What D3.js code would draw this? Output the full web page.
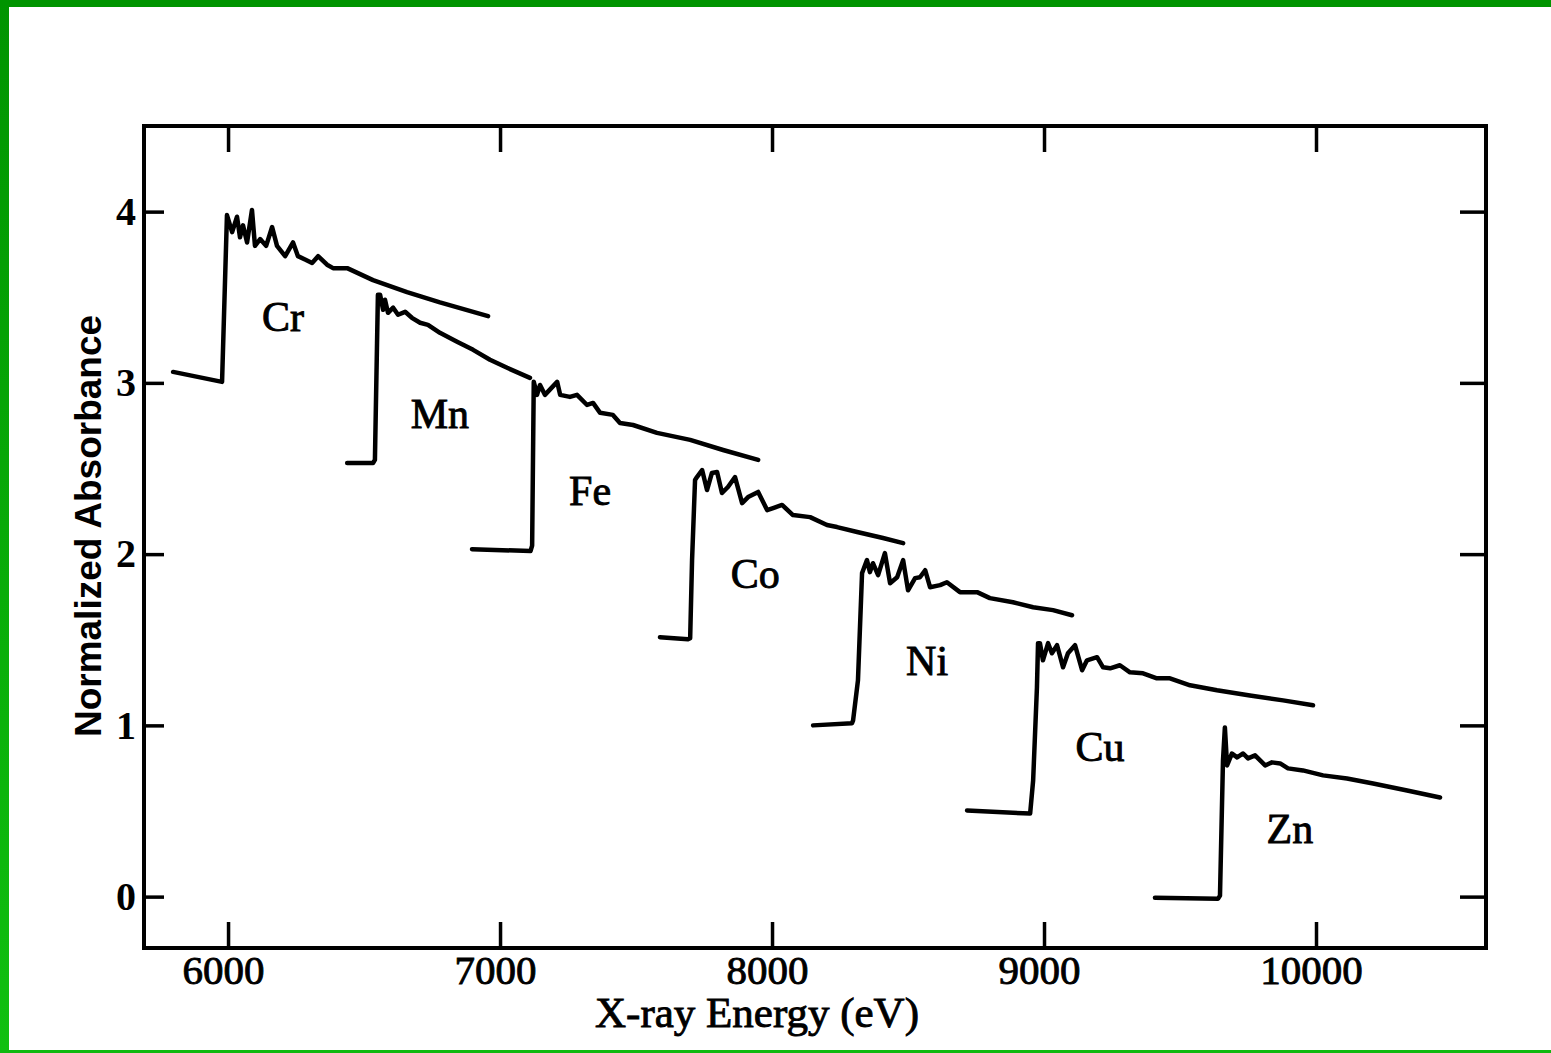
<!DOCTYPE html>
<html>
<head>
<meta charset="utf-8">
<script src="https://cdn.jsdelivr.net/npm/d3@7"></script>
<style>
  html, body { margin: 0; padding: 0; background: #fff; }
  svg { display: block; }
</style>
</head>
<body>
<script>
// tick values
const xTicks = [6000, 7000, 8000, 9000, 10000];
const yTicks = [0, 1, 2, 3, 4];

// element names and where their labels sit (eV, absorbance)
const elements = ["Cr", "Mn", "Fe", "Co", "Ni", "Cu", "Zn"];
const labelE = [6202, 6779, 7331, 7938, 8570, 9206, 9904];
const labelA = [3.39, 2.82, 2.37, 1.89, 1.38, 0.88, 0.40];

// spectra: [energy eV, normalized absorbance]
const cr = [
  [5798, 3.064], [5978, 3.006], [5996, 3.98], [6015, 3.88], [6033, 3.97],
  [6044, 3.85], [6055, 3.92], [6070, 3.82], [6088, 4.01], [6099, 3.80],
  [6118, 3.84], [6140, 3.80], [6162, 3.91], [6180, 3.80], [6210, 3.74],
  [6239, 3.82], [6257, 3.74], [6283, 3.72], [6309, 3.70], [6331, 3.74],
  [6364, 3.69], [6386, 3.67], [6438, 3.67], [6533, 3.60], [6658, 3.53],
  [6779, 3.47], [6956, 3.39]
];
const mn = [
  [6438, 2.532], [6533, 2.532], [6540, 2.55], [6551, 3.515], [6559, 3.515],
  [6570, 3.427], [6577, 3.485], [6588, 3.409], [6607, 3.439], [6625, 3.398],
  [6651, 3.415], [6676, 3.380], [6706, 3.351], [6735, 3.339], [6779, 3.292],
  [6842, 3.240], [6901, 3.193], [6963, 3.135], [7026, 3.088], [7110, 3.029]
];
const fe = [
  [6897, 2.029], [7112, 2.018], [7118, 2.05], [7124, 3.006], [7136, 2.930],
  [7147, 2.988], [7165, 2.930], [7210, 3.006], [7221, 2.930], [7257, 2.918],
  [7283, 2.930], [7320, 2.871], [7342, 2.883], [7368, 2.825], [7415, 2.813],
  [7441, 2.766], [7489, 2.754], [7577, 2.708], [7699, 2.667], [7820, 2.608],
  [7949, 2.550]
];
const co = [
  [7588, 1.515], [7691, 1.503], [7699, 1.509], [7706, 1.965], [7717, 2.433],
  [7724, 2.450], [7743, 2.491], [7761, 2.374], [7779, 2.474], [7798, 2.480],
  [7816, 2.357], [7838, 2.392], [7864, 2.450], [7890, 2.298], [7912, 2.333],
  [7949, 2.363], [7982, 2.257], [8004, 2.269], [8037, 2.287], [8077, 2.228],
  [8140, 2.216], [8202, 2.170], [8239, 2.158], [8313, 2.129], [8408, 2.094],
  [8482, 2.064]
];
const ni = [
  [8151, 1.0], [8294, 1.012], [8298, 1.029], [8316, 1.263], [8331, 1.889],
  [8335, 1.906], [8349, 1.965], [8360, 1.895], [8371, 1.947], [8390, 1.877],
  [8415, 2.006], [8434, 1.830], [8460, 1.865], [8482, 1.965], [8500, 1.789],
  [8526, 1.860], [8544, 1.865], [8563, 1.906], [8581, 1.807], [8618, 1.819],
  [8643, 1.836], [8691, 1.778], [8754, 1.778], [8801, 1.743], [8886, 1.719],
  [8960, 1.690], [9033, 1.673], [9103, 1.643]
];
const cu = [
  [8717, 0.503], [8949, 0.485], [8960, 0.678], [8974, 1.222], [8978, 1.480],
  [8985, 1.480], [8996, 1.380], [9015, 1.480], [9029, 1.421], [9048, 1.468],
  [9070, 1.339], [9088, 1.421], [9114, 1.468], [9140, 1.322], [9158, 1.380],
  [9195, 1.398], [9217, 1.339], [9243, 1.333], [9279, 1.351], [9316, 1.310],
  [9364, 1.304], [9415, 1.275], [9463, 1.275], [9537, 1.234], [9636, 1.205],
  [9757, 1.175], [9879, 1.146], [9989, 1.117]
];
const zn = [
  [9408, -0.006], [9640, -0.012], [9647, 0.006], [9658, 0.795], [9665, 0.988],
  [9673, 0.766], [9691, 0.836], [9710, 0.813], [9732, 0.836], [9750, 0.807],
  [9776, 0.825], [9813, 0.766], [9838, 0.784], [9868, 0.778], [9897, 0.749],
  [9952, 0.737], [10026, 0.708], [10114, 0.690], [10210, 0.661], [10335, 0.620],
  [10456, 0.579]
];
const spectra = [cr, mn, fe, co, ni, cu, zn];

const W = 1551, H = 1053;
const plotLeft = 144, plotRight = 1486, plotTop = 126, plotBottom = 948;
const serif = "'Liberation Serif', 'Times New Roman', serif";

const svg = d3.select("body").append("svg")
  .attr("width", W)
  .attr("height", H);

// green slide border
const grad = svg.append("defs").append("linearGradient")
  .attr("id", "edge").attr("x1", 0).attr("y1", 0).attr("x2", 0).attr("y2", 1);
grad.append("stop").attr("offset", "0%").attr("stop-color", "#009400");
grad.append("stop").attr("offset", "100%").attr("stop-color", "#10c010");
svg.append("rect").attr("x", 0).attr("y", 0).attr("width", W).attr("height", 7).attr("fill", "#009400");
svg.append("rect").attr("x", 0).attr("y", 0).attr("width", 9).attr("height", H).attr("fill", "url(#edge)");
svg.append("rect").attr("x", 0).attr("y", H - 3).attr("width", W).attr("height", 3).attr("fill", "#10b810");

const x = d3.scaleLinear().domain([5691, 10625]).range([plotLeft, plotRight]);
const y = d3.scaleLinear().domain([-0.3, 4.5]).range([plotBottom, plotTop]);

// frame
svg.append("rect")
  .attr("x", plotLeft).attr("y", plotTop)
  .attr("width", plotRight - plotLeft).attr("height", plotBottom - plotTop)
  .attr("fill", "none").attr("stroke", "#000").attr("stroke-width", 4);

const styleAxis = (g) => {
  g.select(".domain").remove();
  g.selectAll(".tick line").attr("stroke", "#000").attr("stroke-width", 3.5);
  g.selectAll(".tick text").attr("fill", "#000");
};

// bottom axis with labels
svg.append("g")
  .attr("transform", `translate(0,${plotBottom})`)
  .call(d3.axisBottom(x).tickValues(xTicks).tickSize(-26).tickPadding(7).tickFormat(d3.format("d")))
  .call(styleAxis)
  .call((g) => g.selectAll(".tick text")
    .attr("font-family", serif)
    .attr("font-size", 41)
    .attr("stroke", "#000")
    .attr("stroke-width", 0.9)
    .attr("dx", -5));

// top axis, ticks only
svg.append("g")
  .attr("transform", `translate(0,${plotTop})`)
  .call(d3.axisTop(x).tickValues(xTicks).tickSize(-26).tickFormat(""))
  .call(styleAxis);

// left axis with labels
svg.append("g")
  .attr("transform", `translate(${plotLeft},0)`)
  .call(d3.axisLeft(y).tickValues(yTicks).tickSize(-20).tickPadding(8).tickFormat(d3.format("d")))
  .call(styleAxis)
  .call((g) => g.selectAll(".tick text")
    .attr("font-family", serif)
    .attr("font-weight", "bold")
    .attr("font-size", 40));

// right axis, ticks only
svg.append("g")
  .attr("transform", `translate(${plotRight},0)`)
  .call(d3.axisRight(y).tickValues(yTicks).tickSize(-26).tickFormat(""))
  .call(styleAxis);

// spectra
const line = d3.line()
  .x((d) => x(d[0]))
  .y((d) => y(d[1]));

svg.selectAll(".spectrum")
  .data(spectra)
  .join("path")
  .attr("class", "spectrum")
  .attr("d", line)
  .attr("fill", "none")
  .attr("stroke", "#000")
  .attr("stroke-width", 4.5)
  .attr("stroke-linejoin", "round")
  .attr("stroke-linecap", "round");

// element labels
svg.selectAll(".elem")
  .data(elements)
  .join("text")
  .attr("class", "elem")
  .attr("x", (d, i) => x(labelE[i]))
  .attr("y", (d, i) => y(labelA[i]))
  .attr("text-anchor", "middle")
  .attr("dy", "0.35em")
  .attr("font-family", serif)
  .attr("font-size", 42)
  .attr("fill", "#000")
  .attr("stroke", "#000")
  .attr("stroke-width", 0.9)
  .text((d) => d);

// axis titles
svg.append("text")
  .attr("x", (plotLeft + plotRight) / 2 - 58)
  .attr("y", 1027)
  .attr("text-anchor", "middle")
  .attr("font-family", serif)
  .attr("font-size", 43)
  .attr("fill", "#000")
  .attr("stroke", "#000")
  .attr("stroke-width", 0.9)
  .text("X-ray Energy (eV)");

svg.append("text")
  .attr("transform", "translate(101,526) rotate(-90)")
  .attr("text-anchor", "middle")
  .attr("font-family", "'Liberation Sans', Arial, sans-serif")
  .attr("font-weight", "bold")
  .attr("font-size", 37)
  .attr("fill", "#000")
  .text("Normalized Absorbance");
</script>
</body>
</html>
